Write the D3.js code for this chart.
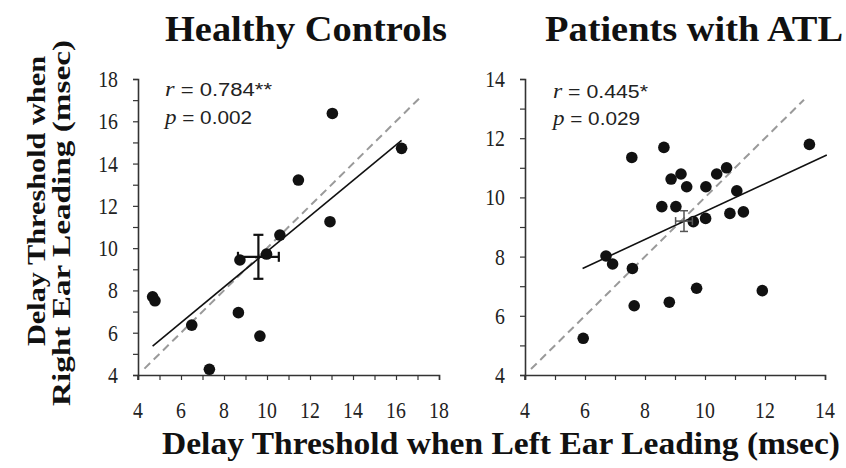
<!DOCTYPE html>
<html><head><meta charset="utf-8">
<script src="https://cdn.jsdelivr.net/npm/d3@7"></script>
<style>body{margin:0;background:#fff}svg{display:block}</style>
</head><body>
<script>
// ---- data ----
const panelTitles = ["Healthy Controls", "Patients with ATL"];
const xTitle = "Delay Threshold when Left Ear Leading (msec)";
const yTitle1 = "Delay Threshold when";
const yTitle2 = "Right Ear  Leading (msec)";

const hcLeft  = [4.68, 4.79, 6.50, 7.32, 8.67, 9.67, 8.74, 9.98, 10.6, 11.46, 12.93, 13.04, 16.26];
const hcRight = [7.70, 7.51, 6.36, 4.27, 6.95, 5.84, 9.44, 9.72, 10.62, 13.22, 11.25, 16.37, 14.72];
const hcMean = [9.6, 9.59];
const hcErr = [0.95, 1.04];
const hcFitX = [4.68, 16.26];
const hcFitY = [5.37, 15.10];
const hcIdent = [4.3, 17.1];
const hcStats = ["0.784**", "0.002"];
const hcTicks = [4, 6, 8, 10, 12, 14, 16, 18];

const atlLeft  = [5.94, 6.70, 6.92, 7.56, 7.58, 7.64, 8.63, 8.56, 8.81, 8.87, 9.03, 9.20, 9.39, 9.61, 9.72, 10.02, 10.03, 10.39, 10.72, 11.06, 10.83, 11.28, 11.91, 13.48];
const atlRight = [5.24, 8.02, 7.75, 11.35, 7.60, 6.34, 11.69, 9.69, 6.46, 10.62, 9.69, 10.79, 10.36, 9.18, 6.93, 9.29, 10.36, 10.79, 11.00, 10.22, 9.46, 9.51, 6.85, 11.79];
const atlMean = [9.3, 9.2];
const atlErr = [0.28, 0.35];
const atlFitX = [5.92, 14.06];
const atlFitY = [7.60, 11.43];
const atlIdent = [4.2, 13.3];
const atlStats = ["0.445*", "0.029"];
const atlTicks = [4, 6, 8, 10, 12, 14];

// ---- drawing ----
const W = 846, H = 468;
const svg = d3.select("body").append("svg").attr("width", W).attr("height", H);
const serif = "'Liberation Serif','Times New Roman',serif";
const sans = "'Liberation Sans',Arial,sans-serif";

const panels = [
  {title: panelTitles[0], tx: [165, 447], xs: d3.scaleLinear().domain([4, 18]).range([138, 439]),
   ys: d3.scaleLinear().domain([4, 18]).range([375, 79]), ticks: hcTicks, xv: hcLeft, yv: hcRight,
   mean: hcMean, err: hcErr, fitX: hcFitX, fitY: hcFitY, ident: hcIdent, stats: hcStats,
   st: {x: 165, y1: 96, y2: 124, w1: 107, w2: 87}, crossColor: "#111", crossW: 2.2, cap: 5},
  {title: panelTitles[1], tx: [545, 843], xs: d3.scaleLinear().domain([4, 14]).range([525, 825]),
   ys: d3.scaleLinear().domain([4, 14]).range([375, 79]), ticks: atlTicks, xv: atlLeft, yv: atlRight,
   mean: atlMean, err: atlErr, fitX: atlFitX, fitY: atlFitY, ident: atlIdent, stats: atlStats,
   st: {x: 553, y1: 98, y2: 125, w1: 95, w2: 87}, crossColor: "#555", crossW: 1.5, cap: 4}
];

panels.forEach(p => {
  const g = svg.append("g");
  const [x0, x1] = p.xs.domain();
  const minor = d3.range(x0, x1 + 0.01, 1);
  // title
  g.append("text").attr("x", p.tx[0]).attr("y", 41)
    .attr("font-family", serif).attr("font-weight", "bold").attr("font-size", 35)
    .attr("textLength", p.tx[1] - p.tx[0]).attr("lengthAdjust", "spacingAndGlyphs")
    .attr("fill", "#111").text(p.title);

  // axes
  const xAxis = d3.axisBottom(p.xs).tickValues(minor).tickSize(5).tickFormat("");
  const yAxis = d3.axisLeft(p.ys).tickValues(minor).tickSize(5).tickFormat("");
  const ya = g.append("g").attr("transform", `translate(${p.xs.range()[0]},0)`).call(yAxis);
  const xa = g.append("g").attr("transform", `translate(0,${p.ys.range()[0]})`).call(xAxis);
  [xa, ya].forEach(a => {
    a.select(".domain").attr("stroke", "#333").attr("stroke-width", 1.6);
    a.selectAll(".tick line").attr("stroke", "#333").attr("stroke-width", 1.2);
  });
  // extend y-axis slightly below x-axis
  g.append("line").attr("x1", p.xs.range()[0]).attr("x2", p.xs.range()[0])
    .attr("y1", p.ys.range()[0]).attr("y2", p.ys.range()[0] + 5)
    .attr("stroke", "#333").attr("stroke-width", 1.6);

  // tick labels
  g.selectAll(".xl").data(p.ticks).join("text").attr("class", "xl")
    .attr("x", d => p.xs(d)).attr("y", 418).attr("text-anchor", "middle")
    .attr("font-family", serif).attr("font-size", 23).attr("fill", "#222")
    .attr("transform", d => `translate(${p.xs(d)},418) scale(0.86,1) translate(${-p.xs(d)},-418)`)
    .text(d => d);
  g.selectAll(".yl").data(p.ticks).join("text").attr("class", "yl")
    .attr("x", p.xs.range()[0] - 20).attr("y", d => p.ys(d) + 8).attr("text-anchor", "end")
    .attr("font-family", serif).attr("font-size", 23).attr("fill", "#222")
    .attr("transform", d => { const x = p.xs.range()[0] - 20, y = p.ys(d); return `translate(${x},${y}) scale(0.86,1) translate(${-x},${-y})`; })
    .text(d => d);

  // identity dashed line
  g.append("line")
    .attr("x1", p.xs(p.ident[0])).attr("y1", p.ys(p.ident[0]))
    .attr("x2", p.xs(p.ident[1])).attr("y2", p.ys(p.ident[1]))
    .attr("stroke", "#9a9a9a").attr("stroke-width", 2).attr("stroke-dasharray", "8,5");
  // regression line
  g.append("line")
    .attr("x1", p.xs(p.fitX[0])).attr("y1", p.ys(p.fitY[0]))
    .attr("x2", p.xs(p.fitX[1])).attr("y2", p.ys(p.fitY[1]))
    .attr("stroke", "#111").attr("stroke-width", 1.6);

  // points
  const pts = p.xv.map((v, i) => [v, p.yv[i]]);
  g.selectAll(".pt").data(pts).join("circle").attr("class", "pt")
    .attr("cx", d => p.xs(d[0])).attr("cy", d => p.ys(d[1])).attr("r", 5.8).attr("fill", "#111");

  // mean with error bars
  const [mx, my] = p.mean, [ex, ey] = p.err;
  const cg = g.append("g").attr("stroke", p.crossColor).attr("stroke-width", p.crossW);
  cg.append("line").attr("x1", p.xs(mx - ex)).attr("x2", p.xs(mx + ex)).attr("y1", p.ys(my)).attr("y2", p.ys(my));
  cg.append("line").attr("x1", p.xs(mx)).attr("x2", p.xs(mx)).attr("y1", p.ys(my - ey)).attr("y2", p.ys(my + ey));
  [mx - ex, mx + ex].forEach(v => cg.append("line").attr("x1", p.xs(v)).attr("x2", p.xs(v))
    .attr("y1", p.ys(my) - p.cap).attr("y2", p.ys(my) + p.cap));
  [my - ey, my + ey].forEach(v => cg.append("line").attr("y1", p.ys(v)).attr("y2", p.ys(v))
    .attr("x1", p.xs(mx) - p.cap).attr("x2", p.xs(mx) + p.cap));

  // stats text
  const t1 = g.append("text").attr("x", p.st.x).attr("y", p.st.y1).attr("font-size", 18).attr("fill", "#222")
    .attr("textLength", p.st.w1).attr("lengthAdjust", "spacingAndGlyphs");
  t1.append("tspan").attr("font-family", serif).attr("font-style", "italic").attr("font-size", 20).text("r");
  t1.append("tspan").attr("font-family", sans).text(" = " + p.stats[0]);
  const t2 = g.append("text").attr("x", p.st.x).attr("y", p.st.y2).attr("font-size", 18).attr("fill", "#222")
    .attr("textLength", p.st.w2).attr("lengthAdjust", "spacingAndGlyphs");
  t2.append("tspan").attr("font-family", serif).attr("font-style", "italic").attr("font-size", 20).text("p");
  t2.append("tspan").attr("font-family", sans).text(" = " + p.stats[1]);
});

// x axis title
svg.append("text").attr("x", 162).attr("y", 454)
  .attr("font-family", serif).attr("font-weight", "bold").attr("font-size", 32).attr("fill", "#111")
  .attr("textLength", 678).attr("lengthAdjust", "spacingAndGlyphs").text(xTitle);

// y axis title (two lines)
svg.append("text").attr("transform", "translate(45,201) rotate(-90)").attr("text-anchor", "middle")
  .attr("font-family", serif).attr("font-weight", "bold").attr("font-size", 26).attr("fill", "#111")
  .attr("textLength", 290).attr("lengthAdjust", "spacingAndGlyphs").text(yTitle1);
svg.append("text").attr("transform", "translate(70,223) rotate(-90)").attr("text-anchor", "middle")
  .attr("font-family", serif).attr("font-weight", "bold").attr("font-size", 26).attr("fill", "#111")
  .attr("textLength", 366).attr("lengthAdjust", "spacingAndGlyphs").text(yTitle2);
</script>
</body></html>
